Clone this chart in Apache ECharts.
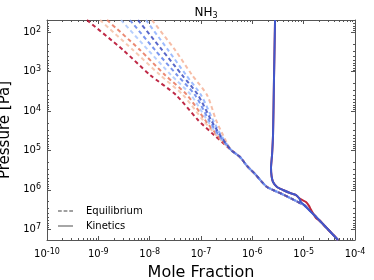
<!DOCTYPE html>
<html><head><meta charset="utf-8">
<script src="https://cdn.jsdelivr.net/npm/echarts@6/dist/echarts.min.js"></script>
<style>html,body{margin:0;padding:0;background:#fff}#c{width:374px;height:280px}</style>
</head><body><div id="c"></div>
<script>
// Pressure levels [Pa] for the upper (diverging) equilibrium branches
const eqUpperP = [49, 281, 1213, 3900, 16830, 40450];
// Mole fraction of each equilibrium branch at those pressures
const eqDarkRed   = [6.01e-10, 3.03e-9, 1.02e-8, 3.26e-8, 8.74e-8, 1.79e-7];
const eqSalmon    = [1.08e-9, 4.73e-9, 1.59e-8, 4.46e-8, 1.09e-7, 1.96e-7];
const eqOrange    = [1.48e-9, 6.48e-9, 1.99e-8, 5.34e-8, 1.20e-7, 2.05e-7];
const eqLightBlue = [2.77e-9, 9.29e-9, 2.61e-8, 6.38e-8, 1.31e-7, 2.14e-7];
const eqBlue      = [4.14e-9, 1.27e-8, 3.41e-8, 7.64e-8, 1.43e-7, 2.24e-7];
const eqSky       = [8.49e-9, 2.28e-8, 5.11e-8, 1.0e-7, 1.71e-7, 2.45e-7];
const eqPeach     = [1.11e-8, 3.12e-8, 6.68e-8, 1.31e-7, 1.96e-7, 2.68e-7];
const eqDarkBlue  = [5.93e-9, 1.74e-8, 4.27e-8, 8.74e-8, 1.57e-7, 2.35e-7];
// Common lower equilibrium branch
const eqLowerX = [3.85e-7, 5.75e-7, 7.87e-7, 1.13e-6, 1.54e-6, 1.93e-6, 2.53e-6, 3.78e-6, 5.93e-6, 8.49e-6, 1.02e-5, 2.08e-5, 4.67e-5];
const eqLowerP = [9.7e4, 1.46e5, 2.47e5, 3.95e5, 6.3e5, 8.43e5, 1.007e6, 1.27e6, 1.70e6, 2.15e6, 2.42e6, 6.15e6, 1.87e7];
// Kinetics profiles
const kinRedX = [2.77e-6, 2.64e-6, 2.53e-6, 2.42e-6, 2.31e-6, 2.37e-6, 2.53e-6, 3.03e-6, 3.96e-6, 5.42e-6, 7.10e-6, 8.11e-6, 9.29e-6, 1.11e-5, 1.27e-5, 1.39e-5, 1.74e-5, 2.08e-5, 4.67e-5];
const kinRedP = [49, 1625, 40450, 1.3e5, 2.78e5, 4.44e5, 6.3e5, 8.43e5, 1.007e6, 1.20e6, 1.35e6, 1.61e6, 1.80e6, 2.03e6, 2.55e6, 3.2e6, 5.17e6, 6.15e6, 1.87e7];
const kinBlueX = [2.77e-6, 2.64e-6, 2.53e-6, 2.42e-6, 2.31e-6, 2.37e-6, 2.53e-6, 3.03e-6, 3.96e-6, 5.42e-6, 7.10e-6, 8.11e-6, 8.87e-6, 1.02e-5, 2.08e-5, 4.67e-5];
const kinBlueP = [49, 1625, 40450, 1.3e5, 2.78e5, 4.44e5, 6.3e5, 8.43e5, 1.007e6, 1.20e6, 1.35e6, 1.61e6, 2.03e6, 2.42e6, 6.15e6, 1.87e7];
// Axis exponents shown as tick labels
const xExponents = [-10, -9, -8, -7, -6, -5, -4];
const yExponents = [2, 3, 4, 5, 6, 7];
const legendNames = ['Equilibrium', 'Kinetics'];

const eqBranches = [
  [eqDarkRed, '#b40426'], [eqSalmon, '#f4c0a6'], [eqOrange, '#e7745b'],
  [eqLightBlue, '#aac7fd'], [eqSky, '#8db0fe'], [eqPeach, '#f5b196'],
  [eqBlue, '#6282ea'], [eqDarkBlue, '#3b4cc0']
];

function pairs(xs, ps) { return xs.map((x, i) => [x, ps[i]]); }
function minorValues(e0, e1) {
  const out = [];
  for (let e = e0; e < e1; e++) for (let m = 2; m <= 9; m++) out.push(+(m * Math.pow(10, e)).toPrecision(3));
  return out;
}

const font = 'DejaVu Sans';
function expLabel(v) {
  const l = Math.log10(v), e = Math.round(l);
  if (Math.abs(l - e) > 0.02) return '';
  const ok = xExponents.includes(e) || yExponents.includes(e);
  return ok ? '10{s|' + e + '}' : '';
}
const rich = { s: { fontSize: 8, fontFamily: font, color: '#000', verticalAlign: 'top', padding: [0, 0, 5, 0] } };

const series = [];
eqBranches.forEach(([arr, col]) => {
  series.push({
    type: 'line', xAxisIndex: 0, yAxisIndex: 0, symbol: 'none', smooth: 0.25, silent: true,
    data: pairs(arr, eqUpperP).concat(pairs(eqLowerX, eqLowerP)),
    lineStyle: { color: col, width: 2, type: [4, 3], opacity: 0.85 }
  });
});
series.push({ type: 'line', symbol: 'none', smooth: 0.2, silent: true, data: pairs(kinRedX, kinRedP), lineStyle: { color: '#c0283a', width: 2 } });
series.push({ type: 'line', symbol: 'none', smooth: 0.2, silent: true, data: pairs(kinBlueX, kinBlueP), lineStyle: { color: '#4058cc', width: 2 } });
series.push({ name: legendNames[0], type: 'line', symbol: 'none', data: [], lineStyle: { color: '#a0a0a0', width: 1.5, type: [4, 3] }, itemStyle: { color: '#a0a0a0' } });
series.push({ name: legendNames[1], type: 'line', symbol: 'none', data: [], lineStyle: { color: '#a0a0a0', width: 2 }, itemStyle: { color: '#a0a0a0' } });

const axisLineStyle = { color: '#555', width: 1 };
function majorAxis(extra) {
  return Object.assign({
    type: 'log', splitLine: { show: false }, axisLine: { lineStyle: axisLineStyle },
    axisTick: { inside: true, length: 4, lineStyle: axisLineStyle }, axisLabel: { show: false }
  }, extra);
}
function minorAxis(extra, vals) {
  return Object.assign({
    type: 'log', splitLine: { show: false }, axisLine: { show: false },
    axisTick: { inside: true, length: 2, lineStyle: axisLineStyle, customValues: vals }, axisLabel: { show: false }
  }, extra);
}
const xMinor = minorValues(-10, -4);
const yMinor = minorValues(1, 8).filter(v => v > 48.8 && v < 1.87e7);
const xr = { min: 1e-10, max: 1e-4 };
const yr = { min: 48.8, max: 1.87e7, inverse: true };
const labelStyle = { fontSize: 10, fontFamily: font, color: '#000', rich: rich, hideOverlap: false };

const chart = echarts.init(document.getElementById('c'), null, { renderer: 'canvas' });
chart.setOption({
  animation: false,
  title: { text: 'NH{s|3}', left: 201, textAlign: 'center', top: 1,
    textStyle: { fontSize: 12, fontWeight: 'normal', fontFamily: font, color: '#000',
      rich: { s: { fontSize: 8, fontFamily: font, verticalAlign: 'bottom', padding: [6, 0, 0, 0] } } } },
  legend: {
    data: [
      { name: legendNames[0], icon: 'path://M0 0h4v2h-4z M6 0h4v2h-4z M12 0h4v2h-4z' },
      { name: legendNames[1], icon: 'path://M0 0h16v2h-16z' }
    ],
    orient: 'vertical', left: 58, top: 206, padding: 0, itemGap: 5, itemWidth: 15, itemHeight: 2,
    textStyle: { fontSize: 10, fontFamily: font, color: '#000', padding: [0, 0, 0, 8] } },
  grid: { left: 47, right: 19, top: 20, bottom: 40, containLabel: false, outerBoundsMode: 'none' },
  xAxis: [
    majorAxis(Object.assign({ position: 'bottom', name: 'Mole Fraction', nameLocation: 'middle', nameGap: 23,
      nameTextStyle: { fontSize: 16, fontFamily: font, color: '#000' },
      axisLabel: Object.assign({ formatter: expLabel, margin: 8 }, labelStyle) }, xr)),
    majorAxis(Object.assign({ position: 'top' }, xr)),
    minorAxis(Object.assign({ position: 'bottom' }, xr), xMinor),
    minorAxis(Object.assign({ position: 'top' }, xr), xMinor)
  ],
  yAxis: [
    majorAxis(Object.assign({ position: 'left', name: 'Pressure [Pa]', nameLocation: 'middle', nameGap: 30,
      nameTextStyle: { fontSize: 15, fontFamily: font, color: '#000' },
      axisLabel: Object.assign({ formatter: expLabel, margin: 6 }, labelStyle) }, yr)),
    majorAxis(Object.assign({ position: 'right' }, yr)),
    minorAxis(Object.assign({ position: 'left' }, yr), yMinor),
    minorAxis(Object.assign({ position: 'right' }, yr), yMinor)
  ],
  series: series
});
</script></body></html>
